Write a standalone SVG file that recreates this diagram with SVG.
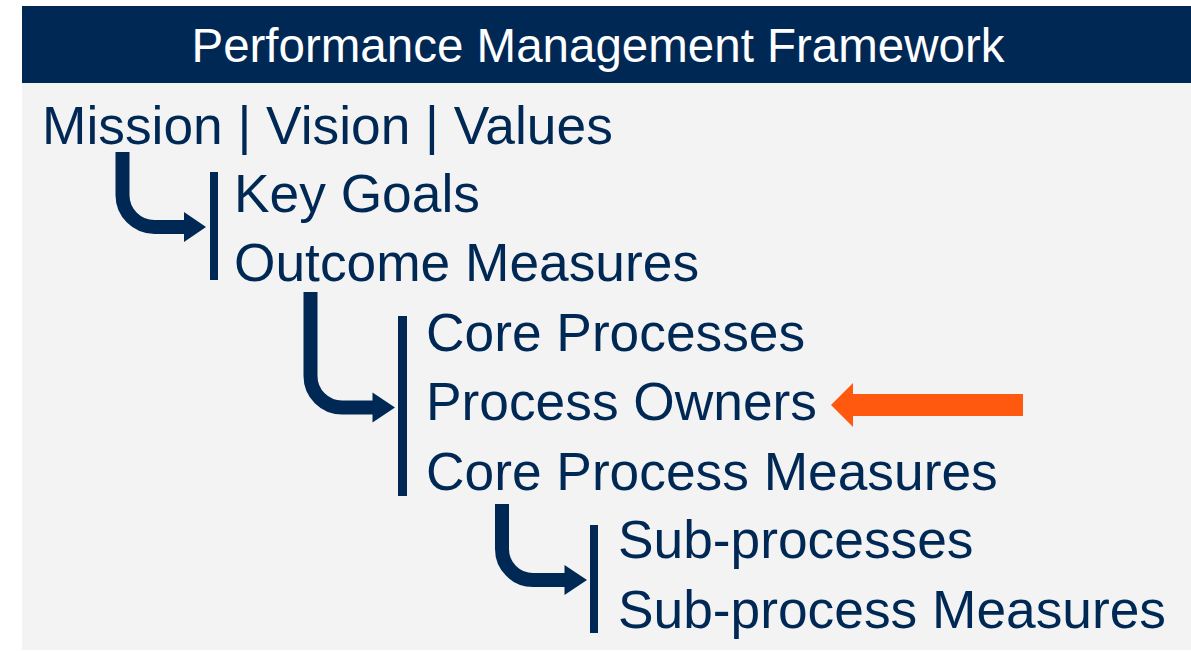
<svg xmlns="http://www.w3.org/2000/svg" width="1191" height="651" viewBox="0 0 1191 651">
<style>
.t{font-family:"Liberation Sans",Arial,sans-serif;font-size:53.3px;fill:#002855}
.h{font-family:"Liberation Sans",Arial,sans-serif;font-size:47.5px;fill:#ffffff}
.conn{fill:none;stroke:#002855;stroke-width:14}
.bar{fill:#002855}
.head{fill:#002855}
</style>
<rect x="0" y="0" width="1191" height="651" fill="#ffffff"/>
<rect x="22" y="83" width="1169" height="567" fill="#f3f3f3"/>
<g id="header">
<rect x="22" y="6" width="1169" height="77" fill="#002855"/>
<text class="h" x="598" y="62" text-anchor="middle">Performance Management Framework</text>
</g>
<g id="mission"><text class="t" x="42" y="144">Mission | Vision | Values</text></g>
<g id="level1">
<rect class="bar" x="210" y="172" width="8" height="108"/>
<text class="t" x="234" y="212">Key Goals</text>
<text class="t" x="234" y="281">Outcome Measures</text>
</g>
<g id="level2">
<rect class="bar" x="398" y="316" width="9" height="180"/>
<text class="t" x="426" y="351">Core Processes</text>
<text class="t" x="426" y="420">Process Owners</text>
<text class="t" x="426" y="490">Core Process Measures</text>
</g>
<g id="level3">
<rect class="bar" x="590" y="525" width="8" height="108"/>
<text class="t" x="618" y="558">Sub-processes</text>
<text class="t" x="618" y="628">Sub-process Measures</text>
</g>
<g id="connectors">
<path class="conn" d="M122.5,152 V195 A32,32 0 0 0 154.5,227 H186"/>
<polygon class="head" points="184,212 206,227 184,242"/>
<path class="conn" d="M310.5,292 V376 A31.5,31.5 0 0 0 342,407.5 H374"/>
<polygon class="head" points="372.5,392.5 395,407.5 372.5,422.5"/>
<path class="conn" d="M502,504 V549 A31,31 0 0 0 533,580 H566"/>
<polygon class="head" points="564.5,565 587,580 564.5,595"/>
<g id="highlight">
<rect x="852" y="394" width="171" height="22" fill="#fe590e"/>
<polygon points="831,405 853,383 853,427" fill="#fe590e"/>
</g>
</g>
</svg>
